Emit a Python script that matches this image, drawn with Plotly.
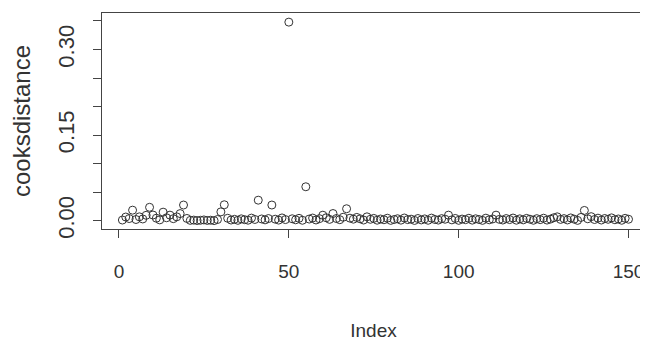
import plotly.graph_objects as go

index = list(range(1, 151))
cooksdistance = [
    0.0012, 0.0065, 0.0038, 0.0185, 0.0021, 0.0068, 0.0031, 0.0095, 0.0235, 0.0100,
    0.0044, 0.0015, 0.0150, 0.0052, 0.0098, 0.0036, 0.0068, 0.0125, 0.0275, 0.0040,
    0.0006, 0.0011, 0.0003, 0.0008, 0.0014, 0.0005, 0.0009, 0.0002, 0.0021, 0.0155,
    0.0280, 0.0043, 0.0012, 0.0025, 0.0007, 0.0033, 0.0018, 0.0009, 0.0046, 0.0022,
    0.0360, 0.0031, 0.0015, 0.0038, 0.0275, 0.0027, 0.0011, 0.0049, 0.0020, 0.3480,
    0.0034, 0.0016, 0.0042, 0.0008, 0.0595, 0.0029, 0.0047, 0.0013, 0.0036, 0.0097,
    0.0052, 0.0024, 0.0126, 0.0039, 0.0018, 0.0061, 0.0210, 0.0045, 0.0027, 0.0058,
    0.0033, 0.0012, 0.0068, 0.0025, 0.0041, 0.0009, 0.0030, 0.0017, 0.0044, 0.0006,
    0.0021, 0.0035, 0.0010, 0.0048, 0.0019, 0.0027, 0.0005, 0.0039, 0.0014, 0.0032,
    0.0008, 0.0046, 0.0022, 0.0011, 0.0037, 0.0026, 0.0098, 0.0015, 0.0040, 0.0007,
    0.0029, 0.0018, 0.0043, 0.0010, 0.0034, 0.0021, 0.0006, 0.0045, 0.0016, 0.0031,
    0.0098, 0.0024, 0.0012, 0.0038, 0.0020, 0.0047, 0.0009, 0.0033, 0.0015, 0.0041,
    0.0026, 0.0008, 0.0036, 0.0019, 0.0044, 0.0011, 0.0028, 0.0052, 0.0068, 0.0023,
    0.0037, 0.0013, 0.0049, 0.0027, 0.0006, 0.0058, 0.0180, 0.0034, 0.0071, 0.0021,
    0.0045, 0.0012, 0.0039, 0.0025, 0.0050, 0.0017, 0.0031, 0.0008, 0.0042, 0.0026,
]

x_tickvals = [0, 50, 100, 150]
x_ticktext = ["0", "50", "100", "150"]
y_tickvals = [0.00, 0.05, 0.10, 0.15, 0.20, 0.25, 0.30, 0.35]
y_ticktext = ["0.00", "", "", "0.15", "", "", "0.30", ""]

ink = "#333333"
font = "Liberation Sans, Arial, sans-serif"

fig = go.Figure(
    go.Scatter(
        x=index, y=cooksdistance, mode="markers",
        marker=dict(symbol="circle-open", size=8, color=ink, line=dict(width=1, color=ink)),
        hoverinfo="skip",
    )
)

# page body has an 8px default margin, so the figure is 640x337 and offset by 8px
fig.update_layout(
    width=640, height=337,
    margin=dict(l=94, r=3, t=5, b=116),
    paper_bgcolor="white", plot_bgcolor="white",
    showlegend=False,
    font=dict(family=font, color=ink),
)

fig.update_xaxes(
    automargin=False,
    range=[-5.0, 154.85], showgrid=False, zeroline=False,
    showline=True, linecolor="#444444", linewidth=1, mirror=True,
    tickmode="array", tickvals=x_tickvals, ticktext=x_ticktext,
    ticks="outside", ticklen=8, tickcolor="#444444", tickwidth=1,
    tickfont=dict(size=19, family=font, color=ink), ticklabelstandoff=17,
    title=dict(text="Index", font=dict(size=19, family=font, color=ink), standoff=42),
)

fig.update_yaxes(
    automargin=False,
    range=[-0.0145, 0.364], showgrid=False, zeroline=False,
    showline=True, linecolor="#444444", linewidth=1, mirror=True,
    tickmode="array", tickvals=y_tickvals, ticktext=y_ticktext,
    ticks="outside", ticklen=8, tickcolor="#444444", tickwidth=1,
    tickangle=-90,
    tickfont=dict(size=22, family=font, color=ink), ticklabelstandoff=10,
    title=dict(text="cooksdistance", font=dict(size=24, family=font, color=ink), standoff=16),
)

fig.write_html("out.html")
